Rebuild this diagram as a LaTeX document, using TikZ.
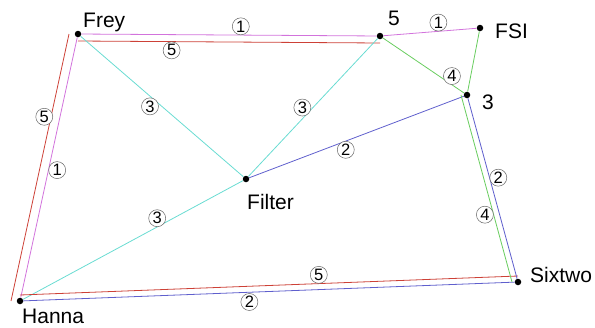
\documentclass[tikz,border=0pt]{standalone}
\usepackage{fontspec}
\setmainfont{Liberation Sans}
\usepackage{xcolor}
\usepackage{tikz}
\usetikzlibrary{positioning, calc}
\definecolor{linkmagenta}{RGB}{210,115,220}
\definecolor{linkred}{RGB}{205,65,55}
\definecolor{linkcyan}{RGB}{105,220,210}
\definecolor{linkblue}{RGB}{95,95,205}
\definecolor{linkgreen}{RGB}{105,205,95}

\begin{document}
\begin{tikzpicture}[
					x=1pt, y=-1pt,
					site/.style={circle, fill=black, inner sep=0pt, minimum size=6.5pt},
					sitename/.style={anchor=base west, inner sep=0pt, font=\fontsize{21}{21}\selectfont},
					link/.style={line width=0.8pt},
					num/.style={circle, draw=black!60, fill=white, text=black, line width=0.5pt, inner sep=0pt, minimum size=17pt, font=\fontsize{16.5}{17}\selectfont}
					]
					\useasboundingbox (0,0) rectangle (595,327);
					% Define nodes
					\node[site] (frey) at (78,34) {};
					\node[site] (five) at (380,36) {};
					\node[site] (fsi) at (480,28) {};
					\node[site] (three) at (467,95) {};
					\node[site] (filter) at (246,179) {};
					\node[site] (hanna) at (20,301) {};
					\node[site] (sixtwo) at (518,282) {};
					
					\node[sitename] (freylbl) at (83,27) {Frey};
					\node[sitename] (fivelbl) at (388,25) {5};
					\node[sitename] (fsilbl) at (495,38) {FSI};
					\node[sitename] (threelbl) at (482,109) {3};
					\node[sitename] (filterlbl) at (247,209) {Filter};
					\node[sitename] (hannalbl) at (22,323) {Hanna};
					\node[sitename] (sixtwolbl) at (530,282) {Sixtwo};
					
					% Links
					\draw[link, linkmagenta] (frey) -- (five) node[num, pos=0.54, above] {1};
					\draw[link, linkred] ([yshift=-7pt]frey.center) -- ([yshift=-7pt]five.center) node[num, pos=0.31, below] {5};
					\draw[link, linkmagenta] (five) -- (fsi) node[num, pos=0.59, above] {1};
					\draw[link, linkgreen] (five) -- (three) node[num, pos=0.85, above] {4};
					\draw[link, linkgreen] (fsi) -- (three);
					\draw[link, linkmagenta] (frey) -- (hanna) node[num, pos=0.51, right] {1};
					\draw[link, linkred] ([xshift=-9pt]frey.center) -- ([xshift=-9pt]hanna.center) node[num, pos=0.31, left=-2pt] {5};
					\draw[link, linkcyan] (frey) -- (filter) node[num, pos=0.46, below left=-1pt] {3};
					\draw[link, linkcyan] (five) -- (filter) node[num, pos=0.54, above left=-1pt] {3};
					\draw[link, linkblue] (filter) -- (three) node[num, pos=0.45, below] {2};
					\draw[link, linkcyan] (filter) -- (hanna) node[num, pos=0.39, above] {3};
					\draw[link, linkblue] (hanna) -- (sixtwo) node[num, pos=0.46, below=1pt] {2};
					\draw[link, linkred] ([yshift=6pt]hanna.center) -- ([yshift=6pt]sixtwo.center) node[num, pos=0.6, above] {5};
					\draw[link, linkblue] (three) -- (sixtwo) node[num, pos=0.44, right] {2};
					\draw[link, linkgreen] ([xshift=-6pt]three.center) -- ([xshift=-6pt]sixtwo.center) node[num, pos=0.64, left] {4};
				\end{tikzpicture}
\end{document}
